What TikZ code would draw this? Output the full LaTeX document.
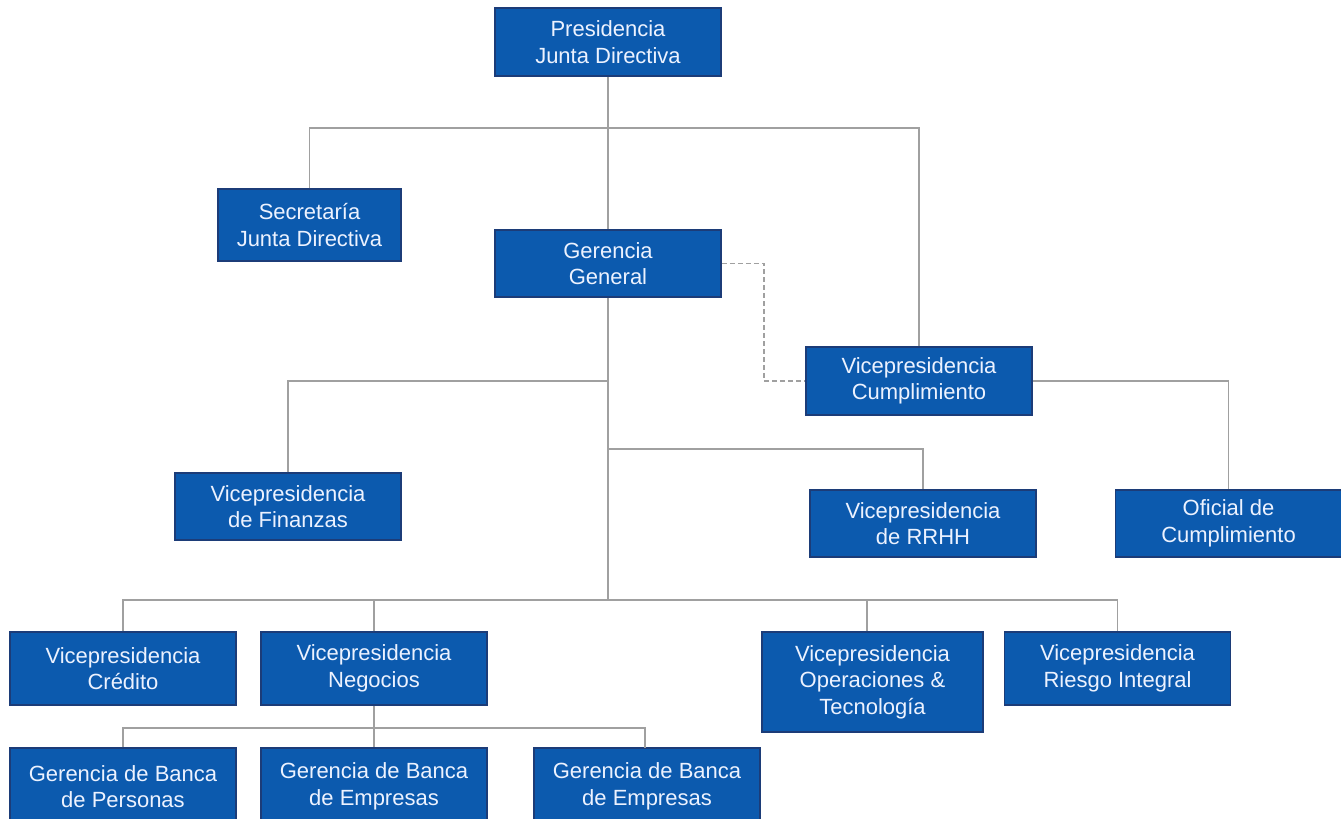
\documentclass[tikz,border=0pt]{standalone}
\usepackage{fontspec}
\setmainfont{Liberation Sans}
\definecolor{boxblue}{RGB}{12,90,174}
\definecolor{boxedge}{RGB}{28,60,120}
\definecolor{boxtext}{RGB}{236,242,255}
\definecolor{wire}{RGB}{160,160,160}
\tikzset{
    unit/.style = {draw = boxedge, line width = 1.5pt, fill = boxblue, text = boxtext,
        minimum width = 226pt, minimum height = 68pt, align = center, inner sep = 2pt,
        font = \fontsize{22}{26.5}\selectfont},
    link/.style = {draw = wire, line width = 1.5pt},
    dotlink/.style = {draw = wire, line width = 1.5pt, dash pattern = on 5pt off 3pt}
}
\begin{document}
\begin{tikzpicture}[x = 1pt, y = -1pt]
        \useasboundingbox [fill = white] (0, 0) rectangle (1341, 819);
        % cajas
        \node [unit] (pres) at (608, 42) {Presidencia\\Junta Directiva};
        \node [unit, minimum width = 183pt, minimum height = 72pt] (secr) at (309.5, 225) {Secretaría\\Junta Directiva};
        \node [unit, minimum height = 67pt] (gere) at (608, 263.5) {Gerencia\\General};
        \node [unit] (cump) at (919, 381) {Vicepresidencia\\Cumplimiento};
        \node [unit, minimum height = 67pt] (fina) at (288, 506.5) {Vicepresidencia\\de Finanzas};
        \node [unit, minimum height = 67pt] (rrhh) at (923, 523.5) {Vicepresidencia\\de RRHH};
        \node [unit, minimum height = 67pt] (ofic) at (1228.5, 523.5) {Oficial de\\Cumplimiento};
        \node [unit, minimum height = 73pt] (cred) at (123, 668.5) {Vicepresidencia\\Crédito};
        \node [unit, minimum height = 73pt] (nego) at (374, 668.5) {Vicepresidencia\\Negocios};
        \node [unit, minimum width = 221pt, minimum height = 100pt] (oper) at (872.5, 682) {Vicepresidencia\\Operaciones \&\\Tecnología};
        \node [unit, minimum height = 73pt] (ries) at (1117.5, 668.5) {Vicepresidencia\\Riesgo Integral};
        \node [unit, minimum height = 77pt] (pers) at (123, 786.5) {Gerencia de Banca\\de Personas};
        \node [unit, minimum height = 77pt] (emp1) at (374, 786.5) {Gerencia de Banca\\de Empresas};
        \node [unit, minimum height = 77pt] (emp2) at (647, 786.5) {Gerencia de Banca\\de Empresas};
        % lineas
        \draw [link] (pres.south) -- (gere.north);
        \draw [link] (secr.north) |- (608, 128) -| (cump.north);
        \draw [link] (gere.south) -- (608, 600);
        \draw [link] (fina.north) |- (608, 381);
        \draw [link] (608, 449) -| (rrhh.north);
        \draw [link] (cred.north) |- (ries.north |- 0, 600) -- (ries.north);
        \draw [link] (nego.north) -- (374, 600);
        \draw [link] (oper.north -| 867, 0) -- (867, 600);
        \draw [link] (cump.east) -| (ofic.north);
        \draw [link] (nego.south) -- (374, 728);
        \draw [link] (pers.north) |- (645, 728) -- (645, 748);
        \draw [link] (374, 728) -- (emp1.north);
        \draw [dotlink] (gere.east) -| (764, 381) -- (cump.west);
    \end{tikzpicture}
\end{document}
